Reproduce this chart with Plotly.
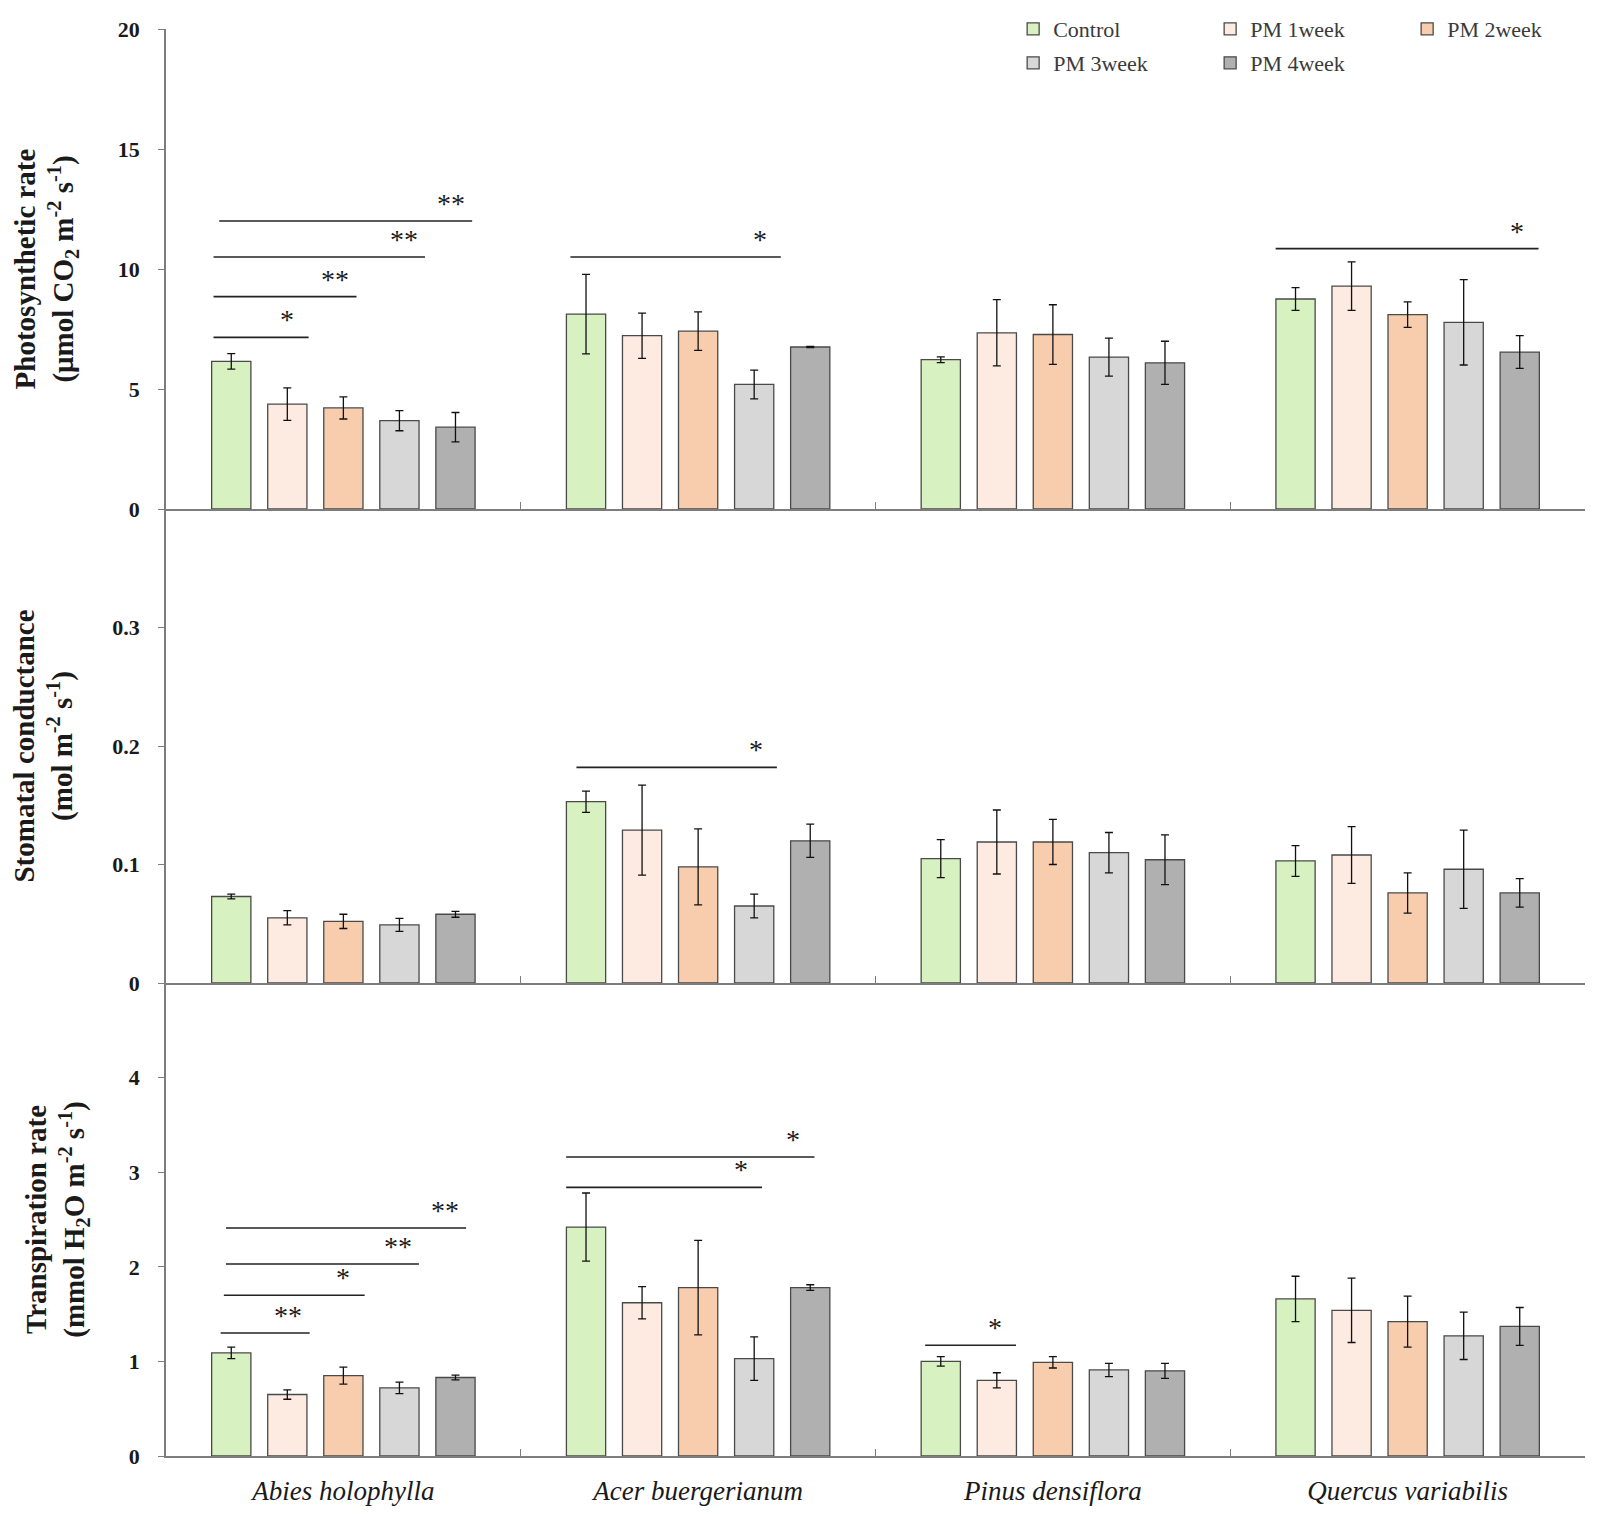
import plotly.graph_objects as go

species = ["Abies holophylla", "Acer buergerianum", "Pinus densiflora", "Quercus variabilis"]
treatments = ["Control", "PM 1week", "PM 2week", "PM 3week", "PM 4week"]
colors = ["#d8f1c1", "#fdeae0", "#f8cdae", "#d7d7d7", "#b0b0b0"]

# rows = treatments, cols = species
photo_mean = [[6.15, 8.12, 6.22, 8.75],
              [4.37, 7.22, 7.34, 9.29],
              [4.21, 7.41, 7.27, 8.10],
              [3.68, 5.19, 6.33, 7.78],
              [3.41, 6.75, 6.09, 6.54]]
photo_err = [[0.32, 1.66, 0.12, 0.47],
             [0.68, 0.94, 1.38, 1.01],
             [0.46, 0.80, 1.24, 0.53],
             [0.42, 0.60, 0.79, 1.78],
             [0.61, 0.03, 0.90, 0.68]]

cond_mean = [[0.073, 0.153, 0.105, 0.103],
             [0.055, 0.129, 0.119, 0.108],
             [0.052, 0.098, 0.119, 0.076],
             [0.049, 0.065, 0.110, 0.096],
             [0.058, 0.120, 0.104, 0.076]]
cond_err = [[0.002, 0.009, 0.016, 0.013],
            [0.006, 0.038, 0.027, 0.024],
            [0.006, 0.032, 0.019, 0.017],
            [0.0055, 0.010, 0.017, 0.033],
            [0.0025, 0.014, 0.021, 0.012]]

trans_mean = [[1.09, 2.42, 1.00, 1.66],
              [0.65, 1.62, 0.80, 1.54],
              [0.85, 1.78, 0.99, 1.42],
              [0.72, 1.03, 0.91, 1.27],
              [0.83, 1.78, 0.90, 1.37]]
trans_err = [[0.06, 0.36, 0.05, 0.24],
             [0.05, 0.17, 0.08, 0.34],
             [0.09, 0.50, 0.06, 0.27],
             [0.06, 0.23, 0.07, 0.25],
             [0.025, 0.03, 0.08, 0.20]]

# significance brackets: panel (0..2), species index, start/end offset (category units), y value, label
sig_panel = [0, 0, 0, 0, 0, 0, 1, 2, 2, 2, 2, 2, 2, 2]
sig_cat = [0, 0, 0, 0, 1, 3, 1, 0, 0, 0, 0, 1, 1, 2]
sig_x0 = [-0.366, -0.366, -0.366, -0.35, -0.36, -0.372, -0.343, -0.346, -0.337, -0.331, -0.331, -0.372, -0.372, -0.36]
sig_x1 = [-0.098, 0.037, 0.23, 0.363, 0.233, 0.369, 0.222, -0.095, 0.06, 0.213, 0.346, 0.18, 0.328, -0.104]
sig_y = [7.15, 8.85, 10.5, 12.0, 10.5, 10.85, 0.182, 1.30, 1.70, 2.03, 2.41, 2.84, 3.16, 1.17]
sig_text = ["*", "**", "**", "**", "*", "*", "*", "**", "*", "**", "**", "*", "*", "*"]

y_titles = ["Photosynthetic rate<br>(μmol CO<sub>2</sub> m<sup>-2</sup> s<sup>-1</sup>)",
            "Stomatal conductance<br>(mol m<sup>-2</sup> s<sup>-1</sup>)",
            "Transpiration rate<br>(mmol H<sub>2</sub>O m<sup>-2</sup> s<sup>-1</sup>)"]
y_ranges = [[0, 20], [0, 0.4], [0, 5]]
y_ticks = [[0, 5, 10, 15, 20], [0, 0.1, 0.2, 0.3], [0, 1, 2, 3, 4]]
y_ticktext = [["0", "5", "10", "15", "20"], ["0", "0.1", "0.2", "0.3"], ["0", "1", "2", "3", "4"]]

means = [photo_mean, cond_mean, trans_mean]
errs = [photo_err, cond_err, trans_err]

FONT = "Liberation Serif"
AXC = "#7d7d7d"
TXT = "#1a1a1a"

# page body has an 8px default margin; size the figure so it fits the 1600x1518 window
BODY = 8
W, H = 1600 - 2 * BODY, 1518 - 2 * BODY
ML, MR, MT, MB = 166 - BODY, 1600 - BODY - 1585, 29 - BODY, 1518 - BODY - 1456
ph = H - MT - MB
b1 = (1456 - 509) / ph
b2 = (1456 - 983) / ph
domains = [[b1, 1.0], [b2, b1], [0.0, b2]]

fig = go.Figure()
for p in range(3):
    xa = "x" if p == 0 else f"x{p+1}"
    ya = "y" if p == 0 else f"y{p+1}"
    for t, name in enumerate(treatments):
        fig.add_trace(go.Bar(
            x=species, y=means[p][t], name=name,
            marker=dict(color=colors[t], line=dict(color="#4a4a4a", width=1.3)),
            error_y=dict(type="data", array=errs[p][t], color="#111111", thickness=1.3, width=4),
            xaxis=xa, yaxis=ya, showlegend=(p == 0),
            legend="legend" if t < 3 else "legend2",
            legendgroup=name,
        ))

legfont = dict(family=FONT, size=22, color="#3a3a3a")
lx = 0.597
layout = dict(
    width=W, height=H,
    margin=dict(l=ML, r=MR, t=MT, b=MB, autoexpand=False),
    plot_bgcolor="white", paper_bgcolor="white",
    barmode="group", bargap=0.21, bargroupgap=0.3,
    font=dict(family=FONT, color=TXT),
    showlegend=True,
    legend=dict(orientation="h", x=lx, xanchor="left", y=1.0, yanchor="middle",
                entrywidth=152, font=legfont, bgcolor="rgba(0,0,0,0)", itemclick=False),
    legend2=dict(orientation="h", x=lx, xanchor="left", y=1 - (63 - 29) / ph, yanchor="middle",
                 entrywidth=152, font=legfont, bgcolor="rgba(0,0,0,0)", itemclick=False),
)
for p in range(3):
    xk = "xaxis" if p == 0 else f"xaxis{p+1}"
    yk = "yaxis" if p == 0 else f"yaxis{p+1}"
    ya = "y" if p == 0 else f"y{p+1}"
    layout[xk] = dict(
        domain=[0, 1], anchor=ya, type="category",
        categoryorder="array", categoryarray=species,
        showline=True, linecolor=AXC, linewidth=1.5,
        ticks="inside", tickson="boundaries", ticklen=7, tickcolor=AXC, tickwidth=1.3,
        showgrid=False, zeroline=False,
        showticklabels=(p == 2),
        tickfont=dict(family=FONT, size=27, color=TXT),
        ticklabelstandoff=10, automargin=False,
    )
    if p > 0:
        layout[xk]["matches"] = "x"
    layout[yk] = dict(
        domain=domains[p], anchor="x" if p == 0 else f"x{p+1}",
        range=y_ranges[p], tickvals=y_ticks[p], ticktext=y_ticktext[p],
        showline=True, linecolor=AXC, linewidth=1.5,
        ticks="outside", ticklen=6, tickcolor=AXC, tickwidth=1.3,
        showgrid=False, zeroline=False, automargin=False,
        ticklabelstandoff=14,
        tickfont=dict(family=FONT, size=22, color=TXT, weight="bold"),
        title=dict(text=y_titles[p], font=dict(family=FONT, size=29, color=TXT, weight="bold"),
                   standoff=36),
    )
fig.update_layout(**layout)
fig.update_xaxes(ticktext=[f"<i>{s}</i>" for s in species], tickvals=species, selector=dict(anchor="y3"))

shapes = []
annots = []
for i in range(len(sig_panel)):
    p = sig_panel[i]
    xr = "x" if p == 0 else f"x{p+1}"
    yr = "y" if p == 0 else f"y{p+1}"
    c = sig_cat[i]
    shapes.append(dict(type="line", xref=xr, yref=yr,
                       x0=c + sig_x0[i], x1=c + sig_x1[i], y0=sig_y[i], y1=sig_y[i],
                       line=dict(color="#222222", width=1.6)))
    annots.append(dict(xref=xr, yref=yr, x=c + sig_x1[i] - 0.06, y=sig_y[i],
                       text=sig_text[i], showarrow=False, yanchor="bottom", xanchor="center",
                       font=dict(family=FONT, size=28, color=TXT), yshift=0))
fig.update_layout(shapes=shapes, annotations=annots)

fig.write_html("out.html")
